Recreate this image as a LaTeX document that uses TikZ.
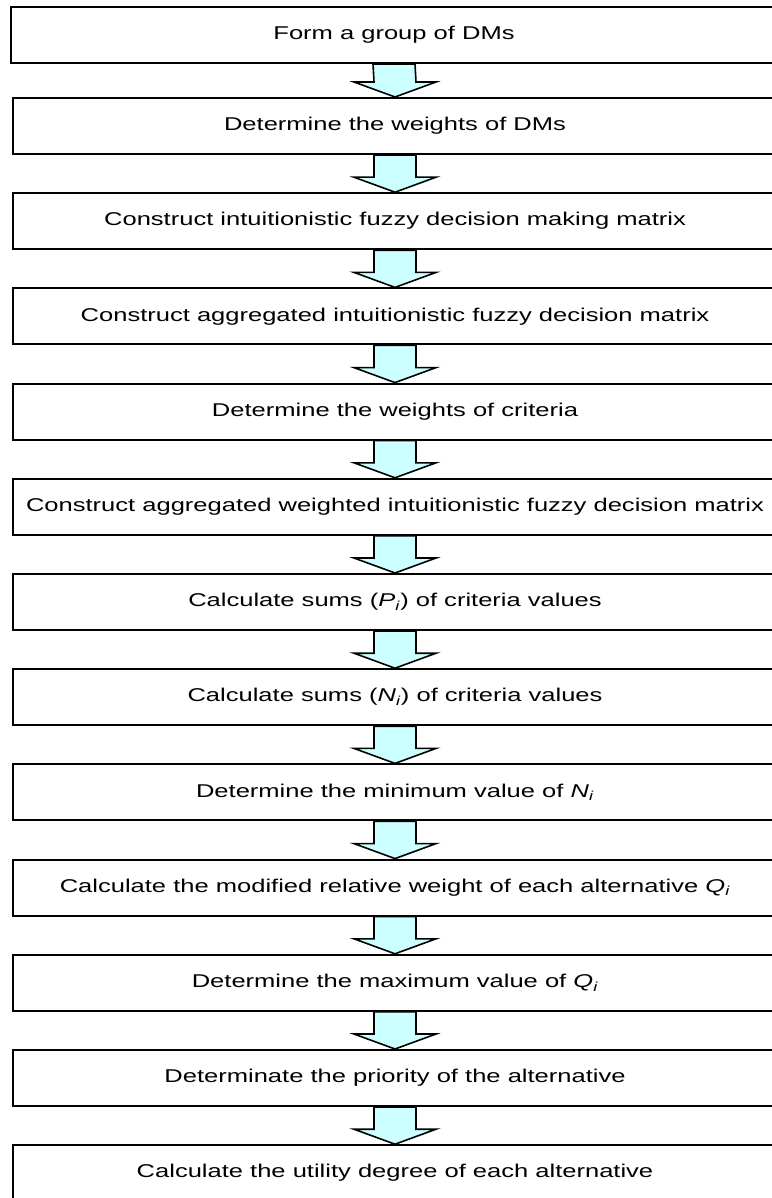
\documentclass[tikz,border=0pt]{standalone}
\usepackage{fontspec}
\newfontfamily\flowfont[FakeStretch=1.38]{Liberation Sans}
\usetikzlibrary{calc}
\definecolor{arrowfill}{HTML}{CCFFFF}
\tikzset{
  stepbox/.style={draw,line width=2pt,minimum width=764pt,minimum height=56pt,inner sep=0pt,
    font=\flowfont\fontsize{18.5}{22}\selectfont},
  blockarr/.style={draw=black,fill=arrowfill,line width=1.6pt,line join=miter},
}
% block arrow from the bottom of one step to the top of the next
\newcommand{\steparrow}[2]{%
  \draw[blockarr] ($(#1.south)+(-21,0)$) -- ($(#2.north)+(-21,15)$) -- ($(#2.north)+(-41,15)$)
    -- (#2.north) -- ($(#2.north)+(41,15)$) -- ($(#2.north)+(21,15)$) -- ($(#1.south)+(21,0)$) -- cycle;}
\newcommand{\ital}[2]{\textit{#1}\textsubscript{\textit{#2}}}

\begin{document}
\begin{tikzpicture}[x=1pt,y=1pt]
  \useasboundingbox (0,0) rectangle (771,-1198);
  \node[stepbox,minimum width=766pt] (b1) at (394,-35) {Form a group of DMs};
  \foreach \i/\txt in {
      2/{Determine the weights of DMs},
      3/{Construct intuitionistic fuzzy decision making matrix},
      4/{Construct aggregated intuitionistic fuzzy decision matrix},
      5/{Determine the weights of criteria},
      6/{Construct aggregated weighted intuitionistic fuzzy decision matrix},
      7/{Calculate sums (\ital{P}{i}) of criteria values},
      8/{Calculate sums (\ital{N}{i}) of criteria values},
      9/{Determine the minimum value of \ital{N}{i}},
      10/{Calculate the modified relative weight of each alternative \ital{Q}{i}},
      11/{Determine the maximum value of \ital{Q}{i}},
      12/{Determinate the priority of the alternative},
      13/{Calculate the utility degree of each alternative}}
    \node[stepbox] (b\i) at (395,{-126-95.2*(\i-2)}) {\txt};
  % arrows between consecutive steps
  \foreach \i in {1,...,12} {
    \pgfmathtruncatemacro{\j}{\i+1}
    \steparrow{b\i}{b\j}
  }
\end{tikzpicture}
\end{document}
